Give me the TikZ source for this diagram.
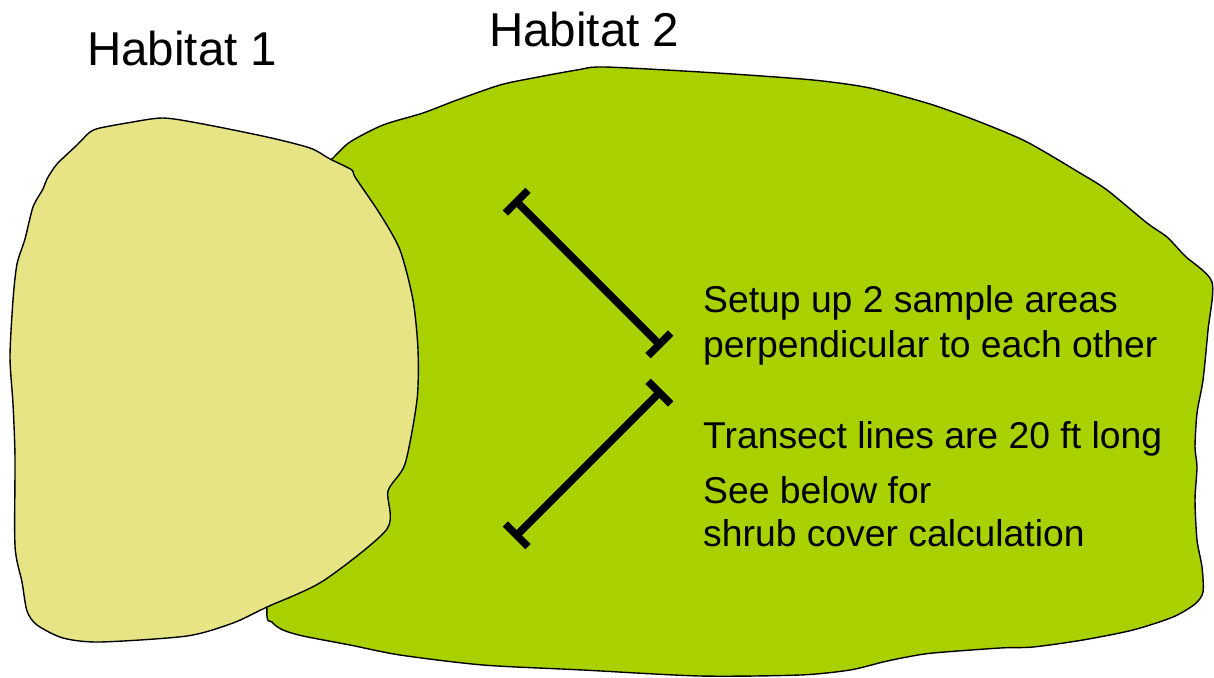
\documentclass[tikz,border=0pt]{standalone}
\usepackage{fontspec}
\setmainfont{Liberation Sans}
\usetikzlibrary{arrows.meta}
\definecolor{habone}{RGB}{230,228,133}
\definecolor{habtwo}{RGB}{169,209,0}
\begin{document}
\begin{tikzpicture}[x=1pt,y=-1pt,
  blob/.style={draw=black,line width=1.4pt,line join=round},
  head/.style={inner sep=0pt,anchor=base west,font=\fontsize{47.5}{52}\selectfont},
  body/.style={inner sep=0pt,anchor=base west,font=\fontsize{37.3}{42}\selectfont},
  transect/.style={line width=7.5pt,{Bar[width=32pt]}-{Bar[width=32pt]}}]
\useasboundingbox[fill=white] (0,0) rectangle (1214,677);
% Habitat 2 (green)
\draw[blob,fill=habtwo] plot[smooth cycle,tension=0.45] coordinates {
 (333,158) (350,142) (383,125) (423,113) (457,100) (500,85) (533,78) (577,70) (605,67)
 (717,73) (813,80) (870,88) (930,104) (980,122) (1027,142) (1080,173) (1107,190)
 (1147,223) (1167,237) (1185,256) (1212,282) (1208,330) (1203,380) (1197,413)
 (1195,447) (1197,467) (1195,500) (1197,540) (1202,567) (1203,592) (1195,604)
 (1173,617) (1133,630) (1083,640) (1033,647) (1000,648) (933,653) (907,657)
 (883,662) (850,670) (800,675) (700,676) (583,670) (483,665) (400,655) (350,645)
 (303,636) (283,630) (272,622) (267,606) (280,450) (300,250) (315,176)};
% Habitat 1 (yellow)
\draw[blob,fill=habone] plot[smooth cycle,tension=0.45] coordinates {
 (163,118) (127,123) (100,128) (90,132) (77,145) (57,164) (47,179) (43,189)
 (33,207) (25,239) (17,264) (13,300) (10,357) (13,404) (15,457) (15,546)
 (22,582) (27,611) (37,625) (63,638) (100,642) (187,636) (233,623) (267,607)
 (323,581) (387,529) (388,491) (405,464) (417,400) (418,350) (413,300)
 (400,250) (380,214) (355,177) (352,170) (330,159) (310,148) (267,137) (203,124)};
% transect lines
\coordinate (a1) at (514,199);
\coordinate (a2) at (662,347);
\coordinate (b1) at (662,390);
\coordinate (b2) at (514,538);
\draw[transect] (a1) -- (a2);
\draw[transect] (b1) -- (b2);
% labels
\node[head] (h1) at (87,66) {Habitat 1};
\node[head] (h2) at (489,47) {Habitat 2};
\node[body] (t1) at (703,312) {Setup up 2 sample areas};
\node[body] (t2) at (703,357) {perpendicular to each other};
\node[body] (t3) at (703,448) {Transect lines are 20 ft long};
\node[body] (t4) at (703,503) {See below for};
\node[body] (t5) at (703,546) {shrub cover calculation};
\end{tikzpicture}
\end{document}
